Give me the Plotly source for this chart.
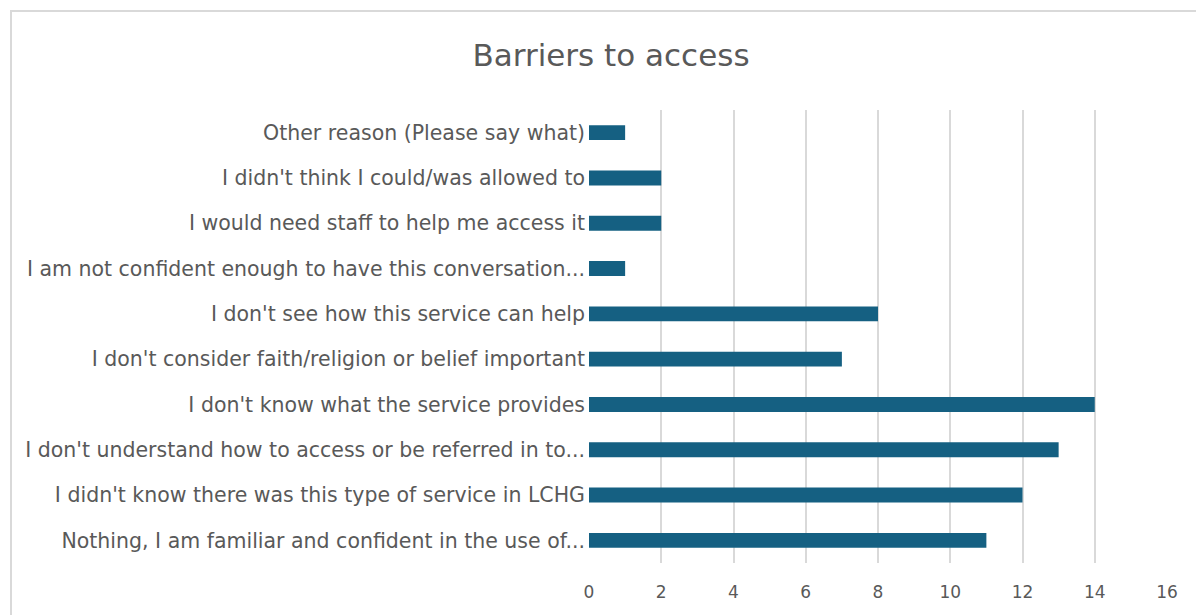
import plotly.graph_objects as go

# Survey responses: reasons people gave for not accessing the service
categories = [
    "Nothing, I am familiar and confident in the use of...",
    "I didn't know there was this type of service in LCHG",
    "I don't understand how to access or be referred in to...",
    "I don't know what the service provides",
    "I don't consider faith/religion or belief important",
    "I don't see how this service can help",
    "I am not confident enough to have this conversation...",
    "I would need staff to help me access it",
    "I didn't think I could/was allowed to",
    "Other reason (Please say what)",
]
counts = [11, 12, 13, 14, 7, 8, 1, 2, 2, 1]
x_ticks = [0, 2, 4, 6, 8, 10, 12, 14, 16]

W, H = 1196, 615
L, R, T, B = 589, 29, 110, 52
pw, ph = W - L - R, H - T - B

text_color = "#595959"
font_family = "'DejaVu Sans', sans-serif"

fig = go.Figure(
    go.Bar(
        x=counts,
        y=categories,
        orientation="h",
        marker=dict(color="#156082", line=dict(width=0)),
        width=0.33,
    )
)

# Thin chart-area frame
def px_to_paper_x(px):
    return (px - L) / pw

def px_to_paper_y(py):
    return (H - B - py) / ph

fig.add_shape(
    type="rect",
    xref="paper", yref="paper",
    x0=px_to_paper_x(11), x1=px_to_paper_x(1210),
    y0=px_to_paper_y(630), y1=px_to_paper_y(11),
    line=dict(color="#d9d9d9", width=2),
    fillcolor="rgba(0,0,0,0)",
    layer="below",
)

fig.update_layout(
    width=W, height=H,
    margin=dict(l=L, r=R, t=T, b=B, pad=0),
    paper_bgcolor="white",
    plot_bgcolor="white",
    showlegend=False,
    title=dict(
        text="Barriers to access",
        x=611 / W, xref="container", xanchor="center",
        y=1 - 55 / H, yref="container", yanchor="middle",
        font=dict(family=font_family, size=31, color=text_color),
    ),
    font=dict(family=font_family, color=text_color),
    bargap=0.67,
)

fig.update_xaxes(
    range=[0, 16],
    tickvals=x_ticks,
    showgrid=True,
    gridcolor="#d9d9d9",
    gridwidth=1.5,
    zeroline=False,
    showline=False,
    ticks="",
    ticklabelstandoff=17,
    tickfont=dict(size=17, color=text_color, family=font_family),
    fixedrange=True,
)
fig.update_yaxes(
    categoryorder="array",
    categoryarray=categories,
    showgrid=False,
    zeroline=False,
    showline=False,
    ticks="",
    ticklabelstandoff=3,
    tickfont=dict(size=20.5, color=text_color, family=font_family),
    fixedrange=True,
)

fig.write_html("out.html")
